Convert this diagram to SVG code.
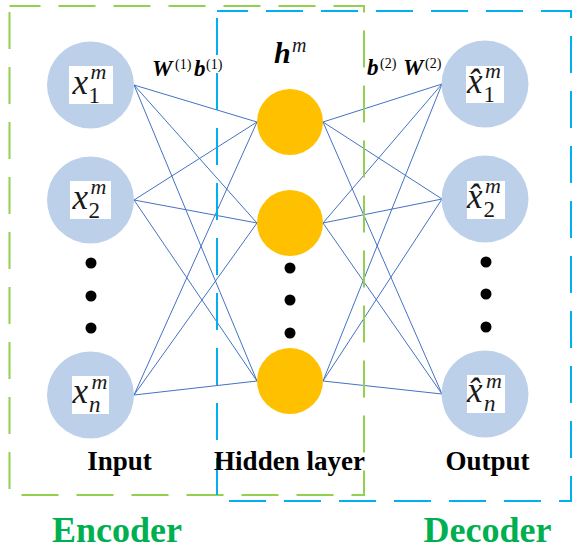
<svg xmlns="http://www.w3.org/2000/svg" width="572" height="551" viewBox="0 0 572 551">
  <style>
    .link { stroke: #4472C4; stroke-width: 1; fill: none; }
    .frame { fill: none; stroke-width: 2; stroke-dasharray: 37 18; stroke-dashoffset: 6; }
    .io { fill: #BDD0E9; }
    .hid { fill: #FFC000; }
    .dot { fill: #000; }
    .pad { fill: #FFFFFF; }
    .math { font-family: "Liberation Serif", "Times New Roman", serif; fill: #1a1a1a; }
    .var { font-style: italic; font-size: 35px; }
    .sub { font-style: normal; font-size: 23px; }
    .subi { font-style: italic; font-size: 23px; }
    .sup { font-style: italic; font-size: 22px; }
    .param { font-family: "Liberation Serif", "Times New Roman", serif; fill: #000; }
    .bi { font-style: italic; font-weight: bold; font-size: 23px; }
    .idx { font-style: normal; font-weight: normal; font-size: 14px; }
    .layer { font-family: "Liberation Serif", "Times New Roman", serif; font-weight: bold; font-size: 27px; fill: #000; text-anchor: middle; }
    .part { font-family: "Liberation Serif", "Times New Roman", serif; font-weight: bold; font-size: 36px; fill: #00B050; text-anchor: middle; }
  </style>

  <!-- weights: input -> hidden -> output -->
  <g id="connectors">
    <g id="encoder-links">
      <line class="link" x1="134" y1="85" x2="257" y2="122"/>
      <line class="link" x1="134" y1="85" x2="257" y2="223"/>
      <line class="link" x1="134" y1="85" x2="257" y2="381"/>
      <line class="link" x1="134" y1="200" x2="257" y2="122"/>
      <line class="link" x1="134" y1="200" x2="257" y2="223"/>
      <line class="link" x1="134" y1="200" x2="257" y2="381"/>
      <line class="link" x1="134" y1="395" x2="257" y2="122"/>
      <line class="link" x1="134" y1="395" x2="257" y2="223"/>
      <line class="link" x1="134" y1="395" x2="257" y2="381"/>
    </g>
    <g id="decoder-links">
      <line class="link" x1="323" y1="122" x2="442" y2="84"/>
      <line class="link" x1="323" y1="122" x2="442" y2="199"/>
      <line class="link" x1="323" y1="122" x2="442" y2="394"/>
      <line class="link" x1="323" y1="223" x2="442" y2="84"/>
      <line class="link" x1="323" y1="223" x2="442" y2="199"/>
      <line class="link" x1="323" y1="223" x2="442" y2="394"/>
      <line class="link" x1="323" y1="381" x2="442" y2="84"/>
      <line class="link" x1="323" y1="381" x2="442" y2="199"/>
      <line class="link" x1="323" y1="381" x2="442" y2="394"/>
    </g>
  </g>

  <!-- encoder / decoder frames -->
  <g id="encoder-frame">
    <path class="frame" stroke="#92D050" d="M9.5 6 H364 V495 H9.5 Z"/>
  </g>
  <g id="decoder-frame">
    <path class="frame" stroke="#00B0F0" d="M217 11 H571 V501 H217 Z"/>
  </g>

  <!-- input layer -->
  <g id="input-1">
    <circle class="io" cx="90.5" cy="85" r="43.5"/>
    <rect class="pad" x="69" y="66" width="44" height="38"/>
    <text class="math"><tspan class="var" x="72.5" y="94">x</tspan><tspan class="sub" x="88.5" y="103">1</tspan><tspan class="sup" x="90.5" y="79">m</tspan></text>
  </g>
  <g id="input-2">
    <circle class="io" cx="90.5" cy="200" r="43.5"/>
    <rect class="pad" x="70" y="181" width="41" height="38"/>
    <text class="math"><tspan class="var" x="72.5" y="209">x</tspan><tspan class="sub" x="88.5" y="218">2</tspan><tspan class="sup" x="90.5" y="194">m</tspan></text>
  </g>
  <g id="input-dots">
    <circle class="dot" cx="91" cy="263" r="5.5"/>
    <circle class="dot" cx="91" cy="296" r="5.5"/>
    <circle class="dot" cx="91" cy="328" r="5.5"/>
  </g>
  <g id="input-n">
    <circle class="io" cx="90.5" cy="395" r="43.5"/>
    <rect class="pad" x="72" y="376" width="37" height="38"/>
    <text class="math"><tspan class="var" x="72.5" y="403">x</tspan><tspan class="subi" x="89" y="412">n</tspan><tspan class="sup" x="91.5" y="389">m</tspan></text>
  </g>

  <!-- hidden layer -->
  <g id="hidden-1">
    <circle class="hid" cx="290" cy="122" r="33"/>
  </g>
  <g id="hidden-2">
    <circle class="hid" cx="290" cy="223" r="33"/>
  </g>
  <g id="hidden-dots">
    <circle class="dot" cx="290" cy="268" r="5.5"/>
    <circle class="dot" cx="290" cy="300" r="5.5"/>
    <circle class="dot" cx="290" cy="333" r="5.5"/>
  </g>
  <g id="hidden-3">
    <circle class="hid" cx="290" cy="381" r="33"/>
  </g>

  <!-- output layer (reconstructions: x with combining circumflex) -->
  <g id="output-1">
    <circle class="io" cx="485" cy="84" r="43.5"/>
    <rect class="pad" x="466" y="66" width="38" height="37"/>
    <text class="math"><tspan class="var" x="467" y="93">x&#x302;</tspan><tspan class="sub" x="483.5" y="102">1</tspan><tspan class="sup" x="485" y="78">m</tspan></text>
  </g>
  <g id="output-2">
    <circle class="io" cx="485" cy="199" r="43.5"/>
    <rect class="pad" x="467" y="181" width="38" height="38"/>
    <text class="math"><tspan class="var" x="467" y="208">x&#x302;</tspan><tspan class="sub" x="483.5" y="217">2</tspan><tspan class="sup" x="485" y="193">m</tspan></text>
  </g>
  <g id="output-dots">
    <circle class="dot" cx="486" cy="262" r="5.5"/>
    <circle class="dot" cx="486" cy="294" r="5.5"/>
    <circle class="dot" cx="486" cy="327" r="5.5"/>
  </g>
  <g id="output-n">
    <circle class="io" cx="485" cy="394" r="43.5"/>
    <rect class="pad" x="467" y="375" width="38" height="38"/>
    <text class="math"><tspan class="var" x="467" y="402">x&#x302;</tspan><tspan class="subi" x="484" y="411">n</tspan><tspan class="sup" x="486" y="388">m</tspan></text>
  </g>

  <!-- parameter labels -->
  <g id="encoder-params">
    <text class="param"><tspan class="bi" x="152" y="76">W</tspan><tspan class="idx" x="175" y="69">(1)</tspan><tspan class="bi" x="194" y="76">b</tspan><tspan class="idx" x="206" y="69">(1)</tspan></text>
  </g>
  <g id="hidden-label">
    <text class="param"><tspan class="bi" x="274" y="63" style="font-size:30px">h</tspan><tspan class="math sup" x="292" y="52" style="font-size:20px">m</tspan></text>
  </g>
  <g id="decoder-params">
    <text class="param"><tspan class="bi" x="367" y="75">b</tspan><tspan class="idx" x="380" y="68">(2)</tspan><tspan class="bi" x="403" y="75">W</tspan><tspan class="idx" x="425" y="68">(2)</tspan></text>
  </g>

  <!-- layer captions -->
  <g id="captions">
    <text class="layer" x="119.5" y="470">Input</text>
    <text class="layer" x="289.5" y="470">Hidden layer</text>
    <text class="layer" x="487.5" y="470">Output</text>
    <text class="part" x="117" y="542">Encoder</text>
    <text class="part" x="487.5" y="542">Decoder</text>
  </g>
</svg>
